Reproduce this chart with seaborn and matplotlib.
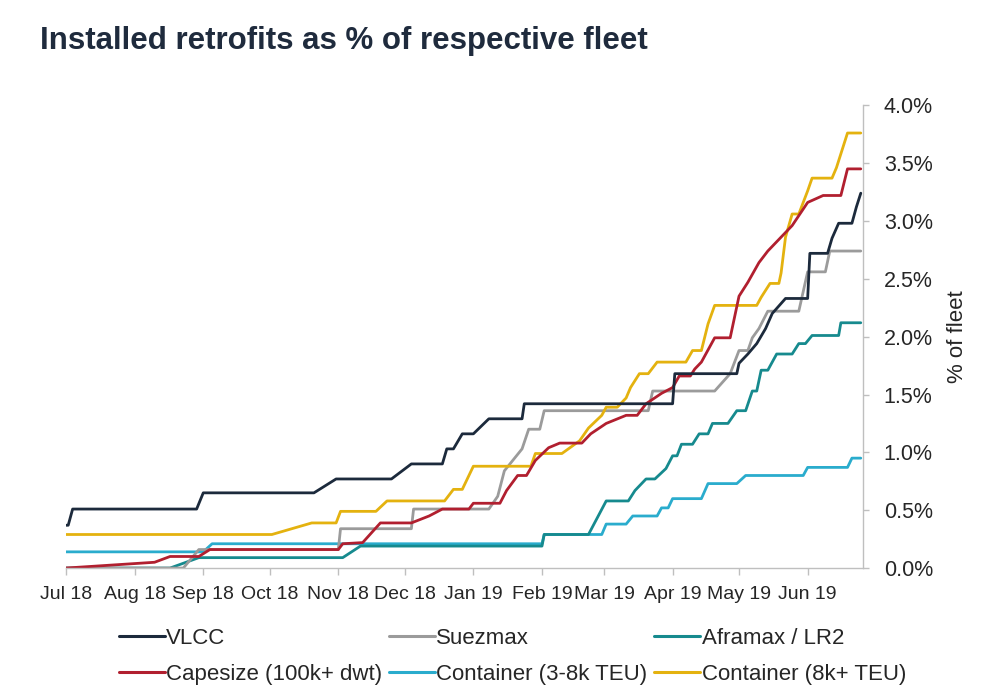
import matplotlib
matplotlib.use('Agg')
import matplotlib.pyplot as plt
import matplotlib.dates as mdates
from matplotlib.lines import Line2D
from matplotlib.ticker import FuncFormatter
import seaborn as sns
import pandas as pd
import numpy as np

# values (% of fleet), linear between points
vlcc_dates = ['2018-07-01', '2018-07-02', '2018-07-04', '2018-08-29', '2018-09-01', '2018-10-21',
              '2018-10-31', '2018-11-25', '2018-12-04', '2018-12-18', '2018-12-20', '2018-12-23',
              '2018-12-27', '2019-01-01', '2019-01-08', '2019-01-23', '2019-01-24', '2019-04-01',
              '2019-04-02', '2019-04-30', '2019-05-01', '2019-05-05', '2019-05-09', '2019-05-13',
              '2019-05-16', '2019-05-22', '2019-06-01', '2019-06-02', '2019-06-10', '2019-06-12',
              '2019-06-15', '2019-06-21', '2019-06-23', '2019-06-25']
vlcc_vals = [0.37, 0.37, 0.51, 0.51, 0.65, 0.65, 0.77, 0.77, 0.90, 0.90, 1.03, 1.03,
             1.16, 1.16, 1.29, 1.29, 1.42, 1.42, 1.68, 1.68, 1.77, 1.85, 1.94, 2.07,
             2.20, 2.33, 2.33, 2.72, 2.72, 2.85, 2.98, 2.98, 3.12, 3.24]

suez_dates = ['2018-07-01', '2018-08-23', '2018-08-30', '2018-11-01', '2018-11-02', '2018-12-04',
              '2018-12-05', '2019-01-08', '2019-01-12', '2019-01-15', '2019-01-23', '2019-01-26',
              '2019-01-31', '2019-02-02', '2019-03-21', '2019-03-23', '2019-04-20', '2019-04-27',
              '2019-05-01', '2019-05-05', '2019-05-07', '2019-05-10', '2019-05-14', '2019-05-28',
              '2019-06-01', '2019-06-09', '2019-06-11', '2019-06-25']
suez_vals = [0.00, 0.00, 0.16, 0.16, 0.34, 0.34, 0.51, 0.51, 0.62, 0.84, 1.03, 1.20,
             1.20, 1.36, 1.36, 1.53, 1.53, 1.68, 1.88, 1.88, 1.99, 2.07, 2.22, 2.22,
             2.56, 2.56, 2.74, 2.74]

afra_dates = ['2018-07-01', '2018-08-17', '2018-08-30', '2018-11-03', '2018-11-11', '2019-02-01',
              '2019-02-02', '2019-02-22', '2019-03-02', '2019-03-12', '2019-03-15', '2019-03-20',
              '2019-03-24', '2019-03-29', '2019-04-01', '2019-04-03', '2019-04-05', '2019-04-10',
              '2019-04-13', '2019-04-17', '2019-04-19', '2019-04-26', '2019-04-30', '2019-05-04',
              '2019-05-07', '2019-05-09', '2019-05-11', '2019-05-14', '2019-05-18', '2019-05-25',
              '2019-05-28', '2019-05-31', '2019-06-03', '2019-06-15', '2019-06-16', '2019-06-25']
afra_vals = [0.00, 0.00, 0.09, 0.09, 0.19, 0.19, 0.29, 0.29, 0.58, 0.58, 0.67, 0.77,
             0.77, 0.86, 0.97, 0.97, 1.07, 1.07, 1.16, 1.16, 1.25, 1.25, 1.36, 1.36,
             1.53, 1.53, 1.71, 1.71, 1.85, 1.85, 1.94, 1.94, 2.01, 2.01, 2.12, 2.12]

cape_dates = ['2018-07-01', '2018-08-10', '2018-08-17', '2018-08-30', '2018-09-04', '2018-11-01',
              '2018-11-03', '2018-11-12', '2018-11-20', '2018-12-04', '2018-12-12', '2018-12-18',
              '2018-12-30', '2019-01-01', '2019-01-13', '2019-01-16', '2019-01-21', '2019-01-25',
              '2019-01-29', '2019-02-04', '2019-02-09', '2019-02-19', '2019-02-23', '2019-03-02',
              '2019-03-11', '2019-03-16', '2019-03-20', '2019-03-27', '2019-04-01', '2019-04-04',
              '2019-04-09', '2019-04-11', '2019-04-14', '2019-04-20', '2019-04-27', '2019-05-01',
              '2019-05-05', '2019-05-10', '2019-05-14', '2019-05-20', '2019-05-25', '2019-06-01',
              '2019-06-08', '2019-06-16', '2019-06-19', '2019-06-25']
cape_vals = [0.00, 0.05, 0.10, 0.10, 0.16, 0.16, 0.21, 0.22, 0.39, 0.39, 0.45, 0.51,
             0.51, 0.56, 0.56, 0.67, 0.80, 0.80, 0.93, 1.04, 1.08, 1.08, 1.16, 1.25,
             1.32, 1.32, 1.42, 1.51, 1.56, 1.66, 1.66, 1.72, 1.78, 1.99, 1.99, 2.35,
             2.47, 2.64, 2.74, 2.86, 2.96, 3.16, 3.22, 3.22, 3.45, 3.45]

cont_small_dates = ['2018-07-01', '2018-09-01', '2018-09-05', '2019-02-01', '2019-02-02', '2019-02-28',
                    '2019-03-02', '2019-03-11', '2019-03-14', '2019-03-25', '2019-03-27', '2019-03-30',
                    '2019-04-01', '2019-04-14', '2019-04-17', '2019-04-30', '2019-05-04', '2019-05-30',
                    '2019-06-01', '2019-06-19', '2019-06-21', '2019-06-25']
cont_small_vals = [0.14, 0.14, 0.21, 0.21, 0.29, 0.29, 0.38, 0.38, 0.45, 0.45, 0.52, 0.52,
                   0.60, 0.60, 0.73, 0.73, 0.80, 0.80, 0.87, 0.87, 0.95, 0.95]

cont_big_dates = ['2018-07-01', '2018-10-02', '2018-10-20', '2018-10-31', '2018-11-02', '2018-11-18',
                  '2018-11-23', '2018-12-19', '2018-12-23', '2018-12-27', '2019-01-01', '2019-01-27',
                  '2019-01-29', '2019-02-10', '2019-02-18', '2019-02-22', '2019-02-28', '2019-03-02',
                  '2019-03-07', '2019-03-11', '2019-03-13', '2019-03-17', '2019-03-21', '2019-03-25',
                  '2019-04-07', '2019-04-10', '2019-04-14', '2019-04-17', '2019-04-20', '2019-05-09',
                  '2019-05-11', '2019-05-15', '2019-05-19', '2019-05-20', '2019-05-22', '2019-05-25',
                  '2019-05-28', '2019-06-01', '2019-06-03', '2019-06-12', '2019-06-14', '2019-06-16',
                  '2019-06-19', '2019-06-25']
cont_big_vals = [0.29, 0.29, 0.39, 0.39, 0.49, 0.49, 0.58, 0.58, 0.68, 0.68, 0.88, 0.88,
                 0.99, 0.99, 1.10, 1.21, 1.32, 1.39, 1.39, 1.47, 1.56, 1.68, 1.68, 1.78,
                 1.78, 1.88, 1.88, 2.11, 2.27, 2.27, 2.34, 2.46, 2.46, 2.55, 2.86, 3.06,
                 3.06, 3.26, 3.37, 3.37, 3.46, 3.58, 3.76, 3.76]

series_names = ['VLCC', 'Suezmax', 'Aframax / LR2',
                'Capesize (100k+ dwt)', 'Container (3-8k TEU)', 'Container (8k+ TEU)']
colors = ['#1c2a3c', '#9b9b9b', '#168a8e', '#b11f2f', '#2aaccd', '#e4b20f']

parts = []
for name, d, v in zip(series_names,
                      [vlcc_dates, suez_dates, afra_dates, cape_dates, cont_small_dates, cont_big_dates],
                      [vlcc_vals, suez_vals, afra_vals, cape_vals, cont_small_vals, cont_big_vals]):
    parts.append(pd.DataFrame({'date': pd.to_datetime(d), 'pct': v, 'series': name}))
df = pd.concat(parts, ignore_index=True)

sns.set_style('white')
plt.rcParams['font.family'] = ['Liberation Sans', 'DejaVu Sans']
axis_grey = '#bfbfbf'
text_col = '#262626'

fig = plt.figure(figsize=(10, 6.97), dpi=100)
ax = fig.add_axes([0.066, 0.185, 0.797, 0.664])

# draw order: teal/cyan underneath, dark line on top
draw_order = ['Container (3-8k TEU)', 'Aframax / LR2', 'Suezmax', 'Container (8k+ TEU)',
              'Capesize (100k+ dwt)', 'VLCC']
pal = dict(zip(series_names, colors))
for name in draw_order:
    sns.lineplot(data=df[df.series == name], x='date', y='pct', color=pal[name],
                 estimator=None, sort=False, linewidth=2.0, ax=ax, legend=False)

ax.set_xlim(pd.Timestamp('2018-07-01'), pd.Timestamp('2019-06-26'))
ax.set_ylim(0, 4.0)
ax.set_yticks(np.arange(0, 4.01, 0.5))
ax.yaxis.set_major_formatter(FuncFormatter(lambda v, p: f'{v:.1f}%'))
ax.xaxis.set_major_locator(mdates.MonthLocator())
ax.xaxis.set_major_formatter(mdates.DateFormatter('%b %y'))

ax.yaxis.tick_right()
ax.yaxis.set_label_position('right')
for s in ['left', 'top']:
    ax.spines[s].set_visible(False)
for s in ['right', 'bottom']:
    ax.spines[s].set_color(axis_grey)
    ax.spines[s].set_linewidth(1.0)

ax.tick_params(axis='x', direction='out', length=5, width=1, color=axis_grey,
               labelsize=14, labelcolor=text_col, pad=8, bottom=True)
ax.tick_params(axis='y', direction='out', length=4, width=1, color=axis_grey,
               labelsize=15.5, labelcolor=text_col, pad=11, right=True, left=False)
ax.set_xlabel('')
ax.set_ylabel('% of fleet', fontsize=16, color=text_col, labelpad=10)

fig.text(0.04, 1 - 49 / 697, 'Installed retrofits as % of respective fleet',
         fontsize=22.5, fontweight='bold', color='#1f2b3d', va='baseline', ha='left')

# legend, filled column-wise so rows read VLCC / Suezmax / Aframax, then the rest
legend_order = ['VLCC', 'Capesize (100k+ dwt)', 'Suezmax', 'Container (3-8k TEU)',
                'Aframax / LR2', 'Container (8k+ TEU)']
handles = [Line2D([0], [0], color=pal[n], linewidth=2.2) for n in legend_order]
fig.legend(handles, legend_order, loc='upper left', bbox_to_anchor=(0.119, 1 - 628 / 697),
           ncol=3, frameon=False, fontsize=16, handlelength=2.05, handletextpad=0.08,
           columnspacing=0.3, labelspacing=0.68, borderpad=0, borderaxespad=0,
           labelcolor=text_col)

fig.savefig('out.png', dpi=100)
